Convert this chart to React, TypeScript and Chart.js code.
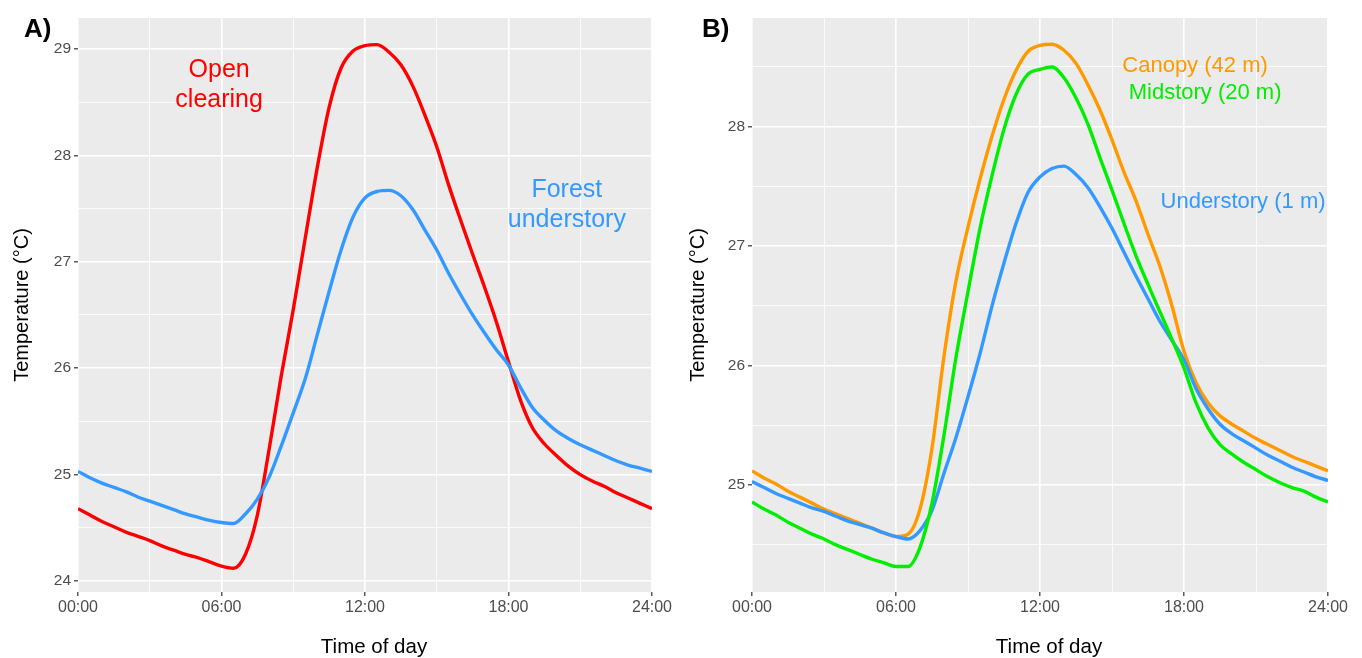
import React, { useEffect, useRef } from 'react';
import { Chart, registerables } from 'chart.js';

Chart.register(...registerables);

// ---------- data ----------
const hours = [
  0, 0.5, 1, 1.5, 2, 2.5, 3, 3.5, 4, 4.5, 5, 5.5, 6, 6.5, 7, 7.5, 8, 8.5, 9, 9.5,
  10, 10.5, 11, 11.5, 12, 12.5, 13, 13.5, 14, 14.5, 15, 15.5, 16, 16.5, 17, 17.5,
  18, 18.5, 19, 19.5, 20, 20.5, 21, 21.5, 22, 22.5, 23, 23.5, 24,
];

// Panel A
const openClearing = [
  24.68, 24.62, 24.56, 24.51, 24.46, 24.42, 24.38, 24.33, 24.29, 24.25, 24.22, 24.18, 24.14, 24.12, 24.25, 24.62,
  25.25, 25.93, 26.55, 27.22, 27.88, 28.45, 28.82, 28.98, 29.03, 29.04, 28.97, 28.85, 28.65, 28.38, 28.08, 27.72,
  27.39, 27.07, 26.76, 26.43, 26.06, 25.7, 25.44, 25.29, 25.18, 25.08, 25.0, 24.94, 24.89, 24.83, 24.78, 24.73, 24.68,
];
const forestUnderstory = [
  25.03, 24.97, 24.92, 24.88, 24.84, 24.79, 24.75, 24.71, 24.67, 24.63, 24.6, 24.57, 24.55, 24.54, 24.63, 24.77,
  24.98, 25.27, 25.58, 25.9, 26.31, 26.72, 27.11, 27.42, 27.6, 27.66, 27.67, 27.62, 27.49, 27.3, 27.11, 26.89,
  26.69, 26.5, 26.33, 26.17, 26.03, 25.82, 25.63, 25.51, 25.41, 25.34, 25.28, 25.23, 25.18, 25.13, 25.09, 25.06, 25.03,
];

// Panel B
const canopy = [
  25.12, 25.06, 25.01, 24.95, 24.9, 24.85, 24.8, 24.76, 24.72, 24.68, 24.64, 24.6, 24.57, 24.59, 24.8, 25.31,
  26.08, 26.71, 27.16, 27.56, 27.92, 28.23, 28.47, 28.63, 28.68, 28.69, 28.64, 28.53, 28.35, 28.14, 27.89, 27.62,
  27.38, 27.1, 26.83, 26.5, 26.12, 25.86, 25.69, 25.58, 25.51, 25.45, 25.39, 25.34, 25.29, 25.24, 25.2, 25.16, 25.12,
];
const midstory = [
  24.86, 24.8, 24.75, 24.69, 24.64, 24.59, 24.55, 24.5, 24.46, 24.42, 24.38, 24.35, 24.32, 24.32, 24.48, 24.85,
  25.42, 26.07, 26.62, 27.15, 27.59, 27.98, 28.27, 28.44, 28.48, 28.5, 28.41, 28.24, 28.02, 27.74, 27.47, 27.19,
  26.92, 26.68, 26.45, 26.22, 25.98, 25.69, 25.48, 25.34, 25.26, 25.19, 25.13, 25.07, 25.02, 24.98, 24.95, 24.9, 24.86,
];
const understory = [
  25.03, 24.98, 24.93, 24.89, 24.85, 24.81, 24.78, 24.74, 24.7, 24.67, 24.64, 24.6, 24.57, 24.55, 24.62, 24.79,
  25.1, 25.4, 25.74, 26.1, 26.5, 26.86, 27.19, 27.45, 27.58, 27.65, 27.67, 27.6, 27.49, 27.33, 27.15, 26.95,
  26.75, 26.56, 26.37, 26.21, 26.05, 25.81, 25.64, 25.51, 25.43, 25.37, 25.31, 25.25, 25.2, 25.15, 25.11, 25.07, 25.04,
];

const xTickHours = [0, 3, 6, 9, 12, 15, 18, 21, 24];
const xTickLabels = ['00:00', '', '06:00', '', '12:00', '', '18:00', '', '24:00'];
const yTicksA = [24, 24.5, 25, 25.5, 26, 26.5, 27, 27.5, 28, 28.5, 29];
const yTicksB = [24.5, 25, 25.5, 26, 26.5, 27, 27.5, 28, 28.5];

const labelsA = [
  { text: ['Open', 'clearing'], x: 5.9, y: 28.66, color: '#FF0000' },
  { text: ['Forest', 'understory'], x: 20.44, y: 27.53, color: '#3399FF' },
];
const labelsB = [
  { text: ['Canopy (42 m)'], x: 18.46, y: 28.51, color: '#FF9900' },
  { text: ['Midstory (20 m)'], x: 18.88, y: 28.285, color: '#00EE00' },
  { text: ['Understory (1 m)'], x: 20.46, y: 27.37, color: '#3399FF' },
];

const FONT = "'Liberation Sans', Arial, Helvetica, sans-serif";

const panelBg = {
  id: 'panelBg',
  beforeDraw(chart: any) {
    const { ctx, chartArea: a } = chart;
    ctx.save();
    ctx.fillStyle = '#EBEBEB';
    ctx.fillRect(a.left, a.top, a.right - a.left, a.bottom - a.top);
    ctx.restore();
  },
};

function textPlugin(tag: string, labels: any[], fontSize: number) {
  return {
    id: 'texts' + tag,
    afterDatasetsDraw(chart: any) {
      const { ctx, scales, chartArea } = chart;
      ctx.save();
      ctx.textAlign = 'center';
      ctx.textBaseline = 'middle';
      ctx.font = `${fontSize}px ${FONT}`;
      labels.forEach((l) => {
        const px = scales.x.getPixelForValue(l.x);
        const py = scales.y.getPixelForValue(l.y);
        ctx.fillStyle = l.color;
        const lh = fontSize * 1.2;
        const n = l.text.length;
        l.text.forEach((t: string, i: number) => {
          ctx.fillText(t, px, py + (i - (n - 1) / 2) * lh);
        });
      });
      // panel tag
      ctx.font = `bold 26px ${FONT}`;
      ctx.fillStyle = '#000';
      ctx.textAlign = 'left';
      ctx.textBaseline = 'alphabetic';
      ctx.fillText(tag, chartArea.left - (tag === 'A)' ? 54 : 50), 37);
      // x title
      ctx.font = `20.5px ${FONT}`;
      ctx.textAlign = 'center';
      ctx.fillText('Time of day', (chartArea.left + chartArea.right) / 2 + 9, 653);
      ctx.restore();
    },
  };
}

function makeConfig(opts: any) {
  const { series, yMin, yMax, yTicks, yWidth, padRight, titlePad, labels, tag, labelSize } = opts;
  return {
    type: 'line',
    data: {
      datasets: series.map((s: any) => ({
        data: hours.map((h, i) => ({ x: h, y: s.values[i] })),
        borderColor: s.color,
        borderWidth: 3.4,
        pointRadius: 0,
        cubicInterpolationMode: 'monotone',
        fill: false,
      })),
    },
    options: {
      animation: false,
      responsive: false,
      devicePixelRatio: 1,
      layout: { padding: { left: 0, right: padRight, top: 18, bottom: 0 } },
      plugins: { legend: { display: false }, tooltip: { enabled: false } },
      scales: {
        x: {
          type: 'linear',
          min: 0,
          max: 24,
          afterBuildTicks: (scale: any) => {
            scale.ticks = xTickHours.map((v) => ({ value: v }));
          },
          afterFit: (scale: any) => {
            scale.height = 66;
          },
          border: { display: false },
          grid: {
            color: '#FFFFFF',
            lineWidth: (c: any) => (c.tick && c.tick.value % 6 === 0 ? 1.6 : 0.8),
            drawTicks: true,
            tickLength: 4,
            tickWidth: 1.2,
            tickColor: (c: any) => (c.tick && c.tick.value % 6 === 0 ? '#333333' : 'rgba(0,0,0,0)'),
          },
          ticks: {
            autoSkip: false,
            maxRotation: 0,
            padding: 2,
            color: '#4D4D4D',
            font: { family: FONT, size: 16 },
            callback: (v: any) => {
              const idx = xTickHours.indexOf(Number(v));
              return idx >= 0 ? xTickLabels[idx] : '';
            },
          },
          title: { display: false },
        },
        y: {
          type: 'linear',
          min: yMin,
          max: yMax,
          afterBuildTicks: (scale: any) => {
            scale.ticks = yTicks.map((v: number) => ({ value: v }));
          },
          afterFit: (scale: any) => {
            scale.width = yWidth;
          },
          border: { display: false },
          grid: {
            color: '#FFFFFF',
            lineWidth: (c: any) => (c.tick && Number.isInteger(c.tick.value) ? 1.6 : 0.8),
            drawTicks: true,
            tickLength: 4,
            tickWidth: 1.2,
            tickColor: (c: any) => (c.tick && Number.isInteger(c.tick.value) ? '#333333' : 'rgba(0,0,0,0)'),
          },
          ticks: {
            autoSkip: false,
            padding: 3,
            color: '#4D4D4D',
            font: { family: FONT, size: 15.5 },
            callback: (v: any) => (Number.isInteger(Number(v)) ? String(v) : ''),
          },
          title: {
            display: true,
            text: 'Temperature (°C)',
            color: '#000000',
            font: { family: FONT, size: 20, lineHeight: 1.2 },
            padding: { top: titlePad, bottom: 0 },
          },
        },
      },
    },
    plugins: [panelBg, textPlugin(tag, labels, labelSize)],
  };
}

function Panel(props: any) {
  const ref = useRef<HTMLCanvasElement | null>(null);
  useEffect(() => {
    if (!ref.current) return;
    const chart = new Chart(ref.current, makeConfig(props.config) as any);
    return () => chart.destroy();
  }, []);
  return (
    <canvas
      ref={ref}
      width={681}
      height={658}
      style={{ position: 'absolute', left: props.left, top: 0, width: 681, height: 658 }}
    />
  );
}

export default function App() {
  const configA = {
    series: [
      { values: forestUnderstory, color: '#3399FF' },
      { values: openClearing, color: '#FF0000' },
    ],
    yMin: 23.897,
    yMax: 29.29,
    yTicks: yTicksA,
    yWidth: 78,
    padRight: 29,
    titlePad: 10,
    labels: labelsA,
    tag: 'A)',
    labelSize: 25,
  };
  const configB = {
    series: [
      { values: midstory, color: '#00EE00' },
      { values: understory, color: '#3399FF' },
      { values: canopy, color: '#FF9900' },
    ],
    yMin: 24.106,
    yMax: 28.91,
    yTicks: yTicksB,
    yWidth: 71,
    padRight: 34,
    titlePad: 5,
    labels: labelsB,
    tag: 'B)',
    labelSize: 22,
  };
  return (
    <div style={{ position: 'absolute', left: 0, top: 0, width: 1362, height: 658, background: '#FFFFFF' }}>
      <Panel left={0} config={configA} />
      <Panel left={681} config={configB} />
    </div>
  );
}
